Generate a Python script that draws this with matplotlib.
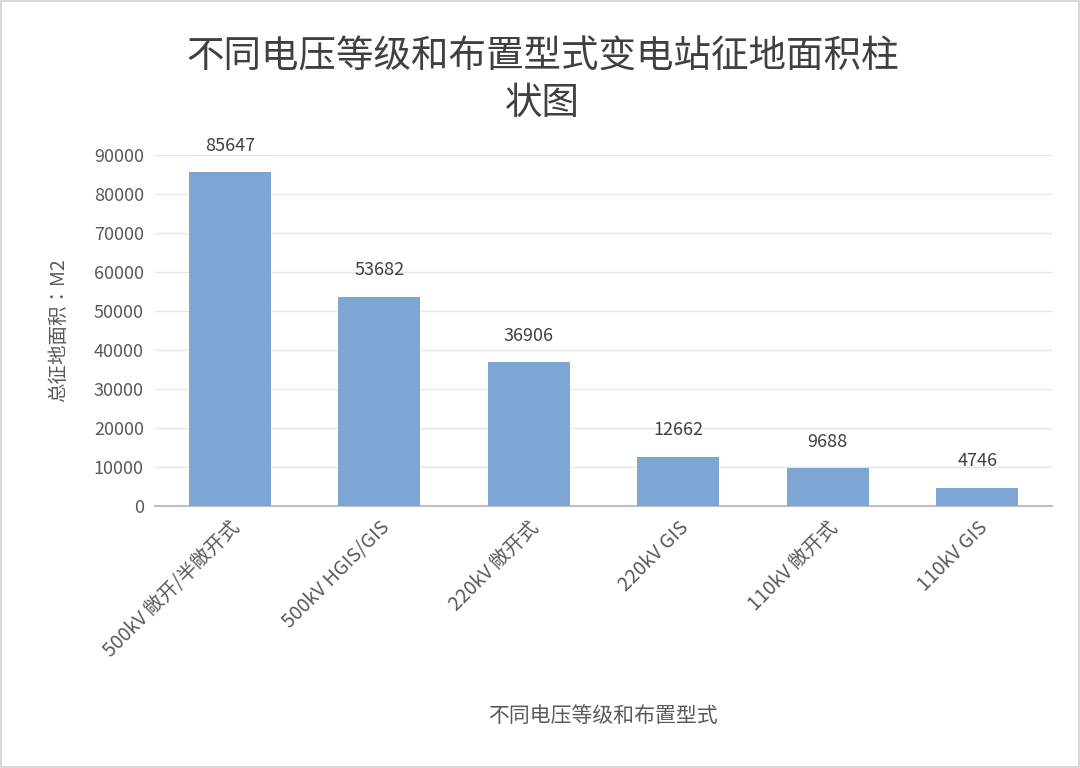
import matplotlib.pyplot as plt
from matplotlib import font_manager
import numpy as np

# 查找可用的中文字体
cjk = [f.name for f in font_manager.fontManager.ttflist if 'CJK' in f.name]
if not cjk:
    for path in font_manager.findSystemFonts():
        if 'CJK' in path:
            font_manager.fontManager.addfont(path)
    cjk = [f.name for f in font_manager.fontManager.ttflist if 'CJK' in f.name]
cjk_name = sorted(cjk, key=lambda n: 'SC' not in n)[0] if cjk else 'DejaVu Sans'
plt.rcParams['font.family'] = [cjk_name, 'DejaVu Sans']

# 数据
categories = ['500kV 敞开/半敞开式', '500kV HGIS/GIS', '220kV 敞开式', '220kV GIS', '110kV 敞开式', '110kV GIS']
areas = [85647, 53682, 36906, 12662, 9688, 4746]
yticks = [0, 10000, 20000, 30000, 40000, 50000, 60000, 70000, 80000, 90000]

fig = plt.figure(figsize=(10.8, 7.68), dpi=100)
fig.patch.set_edgecolor('#d9d9d9')
fig.patch.set_linewidth(1.5)
ax = fig.add_axes([0.1435, 0.341, 0.8305, 0.457])

x = np.arange(len(categories))
ax.bar(x, areas, width=0.55, color='#7ea6d4', zorder=3)
for xi, v in zip(x, areas):
    ax.text(xi, v + 4500, str(v), ha='center', va='bottom', fontsize=13, color='#404040')

ax.set_ylim(0, 90000)
ax.set_xlim(-0.5, len(categories) - 0.5)
ax.set_yticks(yticks)
ax.set_yticklabels([str(t) for t in yticks], fontsize=13, color='#595959')
ax.set_xticks(x)
ax.set_xticklabels(categories, rotation=45, ha='right', rotation_mode='anchor', fontsize=14, color='#595959')
ax.tick_params(length=0, pad=8)
ax.grid(axis='y', color='#e6e6e6', linewidth=1, zorder=0)
for s in ['top', 'right', 'left']:
    ax.spines[s].set_visible(False)
ax.spines['bottom'].set_color('#bfbfbf')
ax.spines['bottom'].set_linewidth(1.5)

ax.set_ylabel('总征地面积：M2', fontsize=14, color='#595959', labelpad=18)
fig.text(0.558, 0.06, '不同电压等级和布置型式', ha='center', fontsize=15, color='#595959')
fig.text(0.502, 0.895, '不同电压等级和布置型式变电站征地面积柱\n状图', ha='center', va='center',
         fontsize=27, color='#404040', linespacing=1.25)

plt.savefig('out.png', dpi=100)
